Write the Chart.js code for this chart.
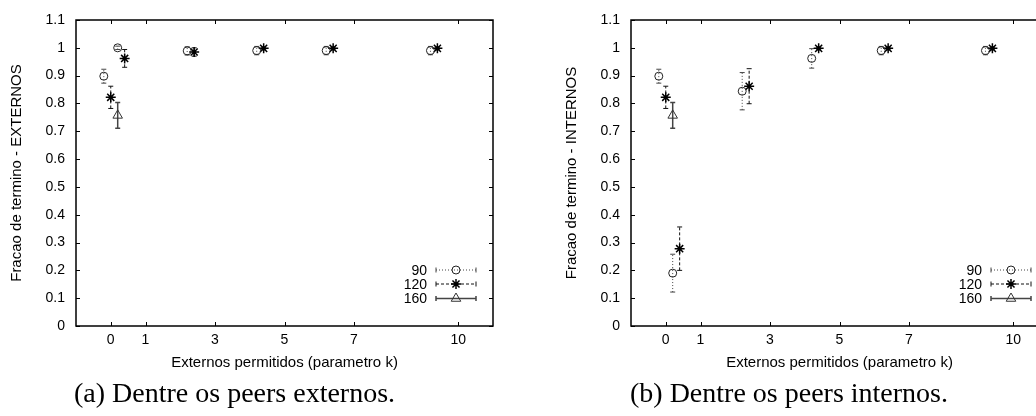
<!DOCTYPE html>
<html>
<head>
<meta charset="utf-8">
<script src="https://cdn.jsdelivr.net/npm/chart.js@4.4.1/dist/chart.umd.min.js"></script>
<style>
html, body { margin: 0; padding: 0; background: #fff; width: 1036px; height: 416px; overflow: hidden; position: relative; }
canvas { position: absolute; top: 0; }
.cap { position: absolute; top: 377px; font-family: 'Liberation Serif', 'Times New Roman', serif; font-size: 28px; color: #000; white-space: nowrap; }
</style>
</head>
<body>
<canvas id="plotA" width="518" height="380" style="left:0px"></canvas>
<canvas id="plotB" width="518" height="380" style="left:555px"></canvas>
<div class="cap" style="left:74px">(a) Dentre os peers externos.</div>
<div class="cap" style="left:630px">(b) Dentre os peers internos.</div>
<script>
var seriesNames = ['90', '120', '160'];
var xTicks = [0, 1, 3, 5, 7, 10];
var yTicks = [0, 0.1, 0.2, 0.3, 0.4, 0.5, 0.6, 0.7, 0.8, 0.9, 1, 1.1];
var yTickLabels = ['0', '0.1', '0.2', '0.3', '0.4', '0.5', '0.6', '0.7', '0.8', '0.9', '1', '1.1'];

// x positions (points are shifted a little per series)
var x90 = [-0.2, 0.2, 2.2, 4.2, 6.2, 9.2];
var x120 = [0, 0.4, 2.4, 4.4, 6.4, 9.4];
var x160 = [0.2];

// (a) externos
var ext90 = [0.898, 1.0, 0.989, 0.99, 0.99, 0.99];
var ext90Err = [0.025, 0.006, 0.015, 0.015, 0.015, 0.015];
var ext120 = [0.822, 0.962, 0.985, 0.998, 0.998, 0.998];
var ext120Err = [0.04, 0.032, 0.015, 0.005, 0.005, 0.005];
var ext160 = [0.757];
var ext160Err = [0.046];

// (b) internos
var int90 = [0.898, 0.19, 0.844, 0.962, 0.99, 0.99];
var int90Err = [0.025, 0.068, 0.067, 0.035, 0.015, 0.015];
var int120 = [0.822, 0.278, 0.862, 0.998, 0.998, 0.998];
var int120Err = [0.04, 0.078, 0.063, 0.005, 0.005, 0.005];
var int160 = [0.757];
var int160Err = [0.046];

var fontFamily = '"Liberation Sans", Arial, sans-serif';

function pts(xs, ys, es) {
    return xs.map((x, i) => ({ x: x, y: ys[i], e: es[i] }));
}

function drawMarker(ctx, style, x, y, r, color, lw) {
    ctx.save();
    ctx.setLineDash([]);
    ctx.strokeStyle = color;
    ctx.lineWidth = lw;
    ctx.beginPath();
    if (style === 'circle') {
        ctx.arc(x, y, r, 0, Math.PI * 2);
    } else if (style === 'star') {
        for (var k = 0; k < 4; k++) {
            var a = k * Math.PI / 4;
            ctx.moveTo(x - Math.cos(a) * r, y - Math.sin(a) * r);
            ctx.lineTo(x + Math.cos(a) * r, y + Math.sin(a) * r);
        }
    } else if (style === 'triangle') {
        ctx.moveTo(x, y - r);
        ctx.lineTo(x + r * 0.87, y + r * 0.5);
        ctx.lineTo(x - r * 0.87, y + r * 0.5);
        ctx.closePath();
    }
    ctx.stroke();
    ctx.restore();
}

// error bars, box, inward ticks and the gnuplot style key
var gnuplotLook = {
    id: 'gnuplotLook',
    beforeDatasetsDraw(chart) {
        var ctx = chart.ctx, xs = chart.scales.x, ys = chart.scales.y;
        chart.data.datasets.forEach(ds => {
            ctx.save();
            ctx.strokeStyle = ds.errColor;
            ctx.lineWidth = ds.errWidth;
            ds.data.forEach(p => {
                var px = xs.getPixelForValue(p.x);
                var y1 = ys.getPixelForValue(p.y - p.e);
                var y2 = ys.getPixelForValue(p.y + p.e);
                ctx.setLineDash(ds.errDash);
                ctx.beginPath();
                ctx.moveTo(px, y1);
                ctx.lineTo(px, y2);
                ctx.stroke();
                ctx.setLineDash([]);
                ctx.beginPath();
                ctx.moveTo(px - 2.5, y1); ctx.lineTo(px + 2.5, y1);
                ctx.moveTo(px - 2.5, y2); ctx.lineTo(px + 2.5, y2);
                ctx.stroke();
            });
            ctx.restore();
        });
    },
    afterDraw(chart) {
        var ctx = chart.ctx, a = chart.chartArea, xs = chart.scales.x, ys = chart.scales.y;
        ctx.save();
        ctx.strokeStyle = '#000';
        ctx.lineWidth = 1;
        ctx.beginPath();
        xs.ticks.forEach(t => {
            var px = Math.round(xs.getPixelForValue(t.value)) + 0.5;
            ctx.moveTo(px, a.bottom); ctx.lineTo(px, a.bottom - 4);
            ctx.moveTo(px, a.top); ctx.lineTo(px, a.top + 4);
        });
        ys.ticks.forEach(t => {
            var py = Math.round(ys.getPixelForValue(t.value)) + 0.5;
            ctx.moveTo(a.left, py); ctx.lineTo(a.left + 4, py);
            ctx.moveTo(a.right, py); ctx.lineTo(a.right - 4, py);
        });
        ctx.stroke();
        ctx.lineWidth = 1.5;
        ctx.strokeRect(a.left, a.top, a.right - a.left, a.bottom - a.top);

        // key
        var offs = [56, 42, 27.5];
        ctx.font = '14px ' + fontFamily;
        ctx.fillStyle = '#000';
        ctx.textAlign = 'right';
        ctx.textBaseline = 'middle';
        chart.data.datasets.forEach((ds, i) => {
            var y = a.bottom - offs[i];
            ctx.fillText(ds.label, a.right - 66, y + 1);
            var l = a.right - 57, r = a.right - 17;
            ctx.strokeStyle = ds.errColor;
            ctx.lineWidth = ds.errWidth;
            ctx.setLineDash(ds.errDash);
            ctx.beginPath();
            ctx.moveTo(l, y); ctx.lineTo(r, y);
            ctx.stroke();
            ctx.setLineDash([]);
            ctx.beginPath();
            ctx.moveTo(l, y - 2.5); ctx.lineTo(l, y + 2.5);
            ctx.moveTo(r, y - 2.5); ctx.lineTo(r, y + 2.5);
            ctx.stroke();
            drawMarker(ctx, ds.pointStyle, (l + r) / 2, y, ds.pointRadius, ds.pointBorderColor, ds.pointBorderWidth);
        });
        ctx.restore();
    }
};

function makeChart(id, yTitle, d90, d120, d160) {
    return new Chart(document.getElementById(id), {
        type: 'scatter',
        data: {
            datasets: [{
                label: seriesNames[0],
                data: d90,
                pointStyle: 'circle',
                pointRadius: 4,
                pointBorderColor: '#222',
                pointBackgroundColor: 'rgba(0,0,0,0)',
                pointBorderWidth: 1,
                errColor: '#444', errWidth: 1, errDash: [1, 2]
            }, {
                label: seriesNames[1],
                data: d120,
                pointStyle: 'star',
                pointRadius: 5,
                pointBorderColor: '#000',
                pointBackgroundColor: 'rgba(0,0,0,0)',
                pointBorderWidth: 1.5,
                errColor: '#111', errWidth: 1, errDash: [3, 2]
            }, {
                label: seriesNames[2],
                data: d160,
                pointStyle: 'triangle',
                pointRadius: 5.5,
                pointBorderColor: '#333',
                pointBackgroundColor: 'rgba(0,0,0,0)',
                pointBorderWidth: 1,
                errColor: '#444', errWidth: 1.5, errDash: []
            }]
        },
        options: {
            responsive: false,
            animation: false,
            devicePixelRatio: 1,
            layout: { padding: { left: 0, right: 25, top: 20, bottom: 0 } },
            plugins: { legend: { display: false }, tooltip: { enabled: false } },
            scales: {
                x: {
                    type: 'linear',
                    min: -1, max: 11,
                    afterBuildTicks: s => { s.ticks = xTicks.map(v => ({ value: v })); },
                    afterFit: s => { s.height = 54; },
                    grid: { display: false, drawTicks: false },
                    border: { display: false },
                    ticks: {
                        padding: 6, maxRotation: 0, autoSkip: false, color: '#000',
                        font: { family: fontFamily, size: 14 },
                        callback: v => String(v)
                    },
                    title: {
                        display: true, text: 'Externos permitidos (parametro k)', color: '#000',
                        font: { family: fontFamily, size: 15 },
                        padding: { top: 0, bottom: 8 }
                    }
                },
                y: {
                    type: 'linear',
                    min: 0, max: 1.1,
                    afterBuildTicks: s => { s.ticks = yTicks.map(v => ({ value: v })); },
                    afterFit: s => { s.width = 76; },
                    grid: { display: false, drawTicks: false },
                    border: { display: false },
                    ticks: {
                        padding: 11, color: '#000',
                        font: { family: fontFamily, size: 14 },
                        callback: (v, i) => yTickLabels[i]
                    },
                    title: {
                        display: true, text: yTitle, color: '#000',
                        font: { family: fontFamily, size: 15 },
                        padding: { top: 8, bottom: 0 }
                    }
                }
            }
        },
        plugins: [gnuplotLook]
    });
}

makeChart('plotA', 'Fracao de termino - EXTERNOS',
    pts(x90, ext90, ext90Err), pts(x120, ext120, ext120Err), pts(x160, ext160, ext160Err));
makeChart('plotB', 'Fracao de termino - INTERNOS',
    pts(x90, int90, int90Err), pts(x120, int120, int120Err), pts(x160, int160, int160Err));
</script>
</body>
</html>
